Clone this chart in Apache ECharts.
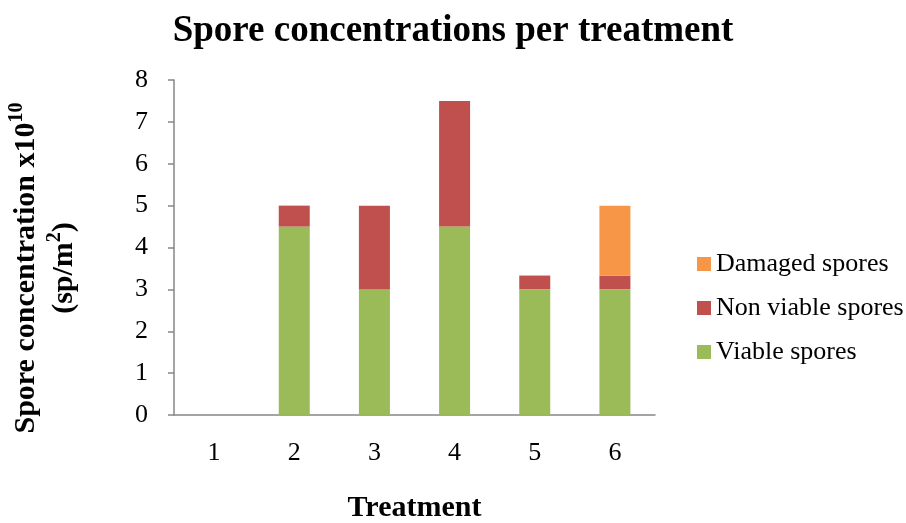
<!DOCTYPE html>
<html>
<head>
<meta charset="utf-8">
<script src="https://cdn.jsdelivr.net/npm/echarts@6/dist/echarts.min.js"></script>
<style>
  html, body { margin: 0; padding: 0; background: #fff; }
  #chart { width: 906px; height: 523px; }
</style>
</head>
<body>
<div id="chart"></div>
<script>
// Treatments on the x axis
const treatments = ['1', '2', '3', '4', '5', '6'];

// Spore concentrations (x10^10 sp/m²) per treatment, stacked
const viableSpores = [0, 4.5, 3, 4.5, 3, 3];
const nonViableSpores = [0, 0.5, 2, 3, 0.33, 0.33];
const damagedSpores = [0, 0, 0, 0, 0, 1.67];

// y-axis tick range
const yMin = 0;
const yMax = 8;
const yStep = 1;

const serif = '"Liberation Serif", "Times New Roman", serif';
const axisGrey = '#868686';

const chart = echarts.init(document.getElementById('chart'));

chart.setOption({
  backgroundColor: '#ffffff',
  animation: false,
  title: {
    text: 'Spore concentrations per treatment',
    left: 'center',
    top: 8,
    textStyle: { fontFamily: serif, fontSize: 37, fontWeight: 'bold', color: '#000' }
  },
  legend: {
    orient: 'vertical',
    left: 692,
    top: 246,
    itemWidth: 14,
    itemHeight: 14,
    itemGap: 18,
    icon: 'rect',
    data: ['Damaged spores', 'Non viable spores', 'Viable spores'],
    textStyle: { fontFamily: serif, fontSize: 26, color: '#000', lineHeight: 26 }
  },
  grid: { left: 174, right: 251, top: 80, bottom: 108, outerBoundsMode: 'none', containLabel: false },
  // Rotated two-line y-axis title with superscripts
  graphic: [
    {
      type: 'text',
      x: 45,
      y: 268,
      rotation: Math.PI / 2,
      style: {
        text: '{t|Spore concentration x10}{s|10}\n{t|(sp/m}{s|2}{t|)}',
        align: 'center',
        verticalAlign: 'middle',
        fill: '#000',
        rich: {
          t: { fontFamily: serif, fontSize: 30, fontWeight: 'bold', fill: '#000', lineHeight: 38 },
          s: { fontFamily: serif, fontSize: 20, fontWeight: 'bold', fill: '#000', lineHeight: 27, verticalAlign: 'top' }
        }
      }
    }
  ],
  xAxis: {
    type: 'category',
    data: treatments,
    name: 'Treatment',
    nameLocation: 'middle',
    nameGap: 78,
    nameTextStyle: { fontFamily: serif, fontSize: 30, fontWeight: 'bold', color: '#000' },
    axisLine: { lineStyle: { color: axisGrey, width: 1.5 } },
    axisTick: { length: 8, lineStyle: { color: axisGrey, width: 1.5 } },
    axisLabel: { fontFamily: serif, fontSize: 26, color: '#000', margin: 25 }
  },
  yAxis: {
    type: 'value',
    min: yMin,
    max: yMax,
    interval: yStep,
    splitLine: { show: false },
    axisLine: { show: true, lineStyle: { color: axisGrey, width: 1.5 } },
    axisTick: { show: true, length: 6, lineStyle: { color: axisGrey, width: 1.5 } },
    axisLabel: { fontFamily: serif, fontSize: 26, color: '#000', margin: 26 }
  },
  series: [
    {
      name: 'Viable spores',
      type: 'bar',
      stack: 'spores',
      barWidth: 31,
      itemStyle: { color: '#9BBB59' },
      data: viableSpores
    },
    {
      name: 'Non viable spores',
      type: 'bar',
      stack: 'spores',
      barWidth: 31,
      itemStyle: { color: '#C0504D' },
      data: nonViableSpores
    },
    {
      name: 'Damaged spores',
      type: 'bar',
      stack: 'spores',
      barWidth: 31,
      itemStyle: { color: '#F79646' },
      data: damagedSpores
    }
  ]
});
</script>
</body>
</html>
